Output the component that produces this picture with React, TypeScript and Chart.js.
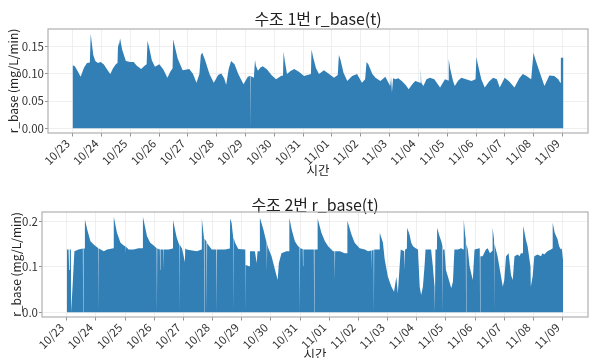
import { useEffect, useRef } from "react";
import { Chart, registerables } from "chart.js";

Chart.register(...registerables);

// ---- Data ----
const dateLabels = [
  "10/23", "10/24", "10/25", "10/26", "10/27", "10/28", "10/29", "10/30", "10/31",
  "11/01", "11/02", "11/03", "11/04", "11/05", "11/06", "11/07", "11/08", "11/09",
];
const dayTicks = [0, 1, 2, 3, 4, 5, 6, 7, 8, 9, 10, 11, 12, 13, 14, 15, 16, 17];
const yTicks1 = [0, 0.05, 0.1, 0.15];
const yTicks2 = [0, 0.1, 0.2];

// Tank 1: time (days since 10/23 00:00) and r_base
const t1 = [
  0.0, 0.08, 0.18, 0.28, 0.4, 0.5, 0.6, 0.63, 0.66, 0.72, 0.79, 0.88, 0.97, 1.08, 1.2, 1.31,
  1.4, 1.5, 1.56, 1.58, 1.6, 1.65, 1.72, 1.85, 2.0, 2.12, 2.23, 2.38, 2.5, 2.57, 2.6, 2.66,
  2.75, 2.86, 3.01, 3.15, 3.29, 3.4, 3.47, 3.49, 3.55, 3.65, 3.82, 4.05, 4.18, 4.3, 4.4, 4.45,
  4.5, 4.6, 4.75, 4.9, 5.05, 5.16, 5.26, 5.33, 5.42, 5.5, 5.62, 5.75, 5.93, 6.08, 6.16, 6.17,
  6.18, 6.29, 6.33, 6.36, 6.43, 6.52, 6.6, 6.75, 6.9, 7.06, 7.23, 7.3, 7.32, 7.36, 7.44, 7.55,
  7.69, 7.85, 8.03, 8.15, 8.27, 8.29, 8.35, 8.45, 8.55, 8.72, 8.9, 9.07, 9.2, 9.24, 9.3, 9.4,
  9.53, 9.7, 9.87, 10.04, 10.15, 10.2, 10.26, 10.4, 10.51, 10.68, 10.85, 11.02, 11.05, 11.08, 11.12, 11.2,
  11.3, 11.42, 11.55, 11.66, 11.8, 11.89, 12.06, 12.08, 12.1, 12.17, 12.28, 12.4, 12.55, 12.75, 12.92, 13.03,
  13.05, 13.1, 13.2, 13.26, 13.38, 13.49, 13.65, 13.84, 13.98, 14.01, 14.06, 14.18, 14.3, 14.45, 14.59, 14.72,
  14.82, 14.99, 15.15, 15.33, 15.5, 15.62, 15.75, 15.91, 15.99, 16.05, 16.2, 16.37, 16.54, 16.71, 16.85, 16.92,
  16.94, 17.03,
];
const v1 = [
  0.116, 0.114, 0.105, 0.095, 0.112, 0.12, 0.121, 0.174, 0.16, 0.135, 0.124, 0.12, 0.122, 0.118, 0.108, 0.1,
  0.11, 0.118, 0.12, 0.158, 0.15, 0.165, 0.145, 0.124, 0.122, 0.122, 0.115, 0.109, 0.115, 0.118, 0.161, 0.148,
  0.125, 0.113, 0.118, 0.108, 0.093, 0.105, 0.11, 0.164, 0.15, 0.128, 0.107, 0.109, 0.1, 0.084, 0.1, 0.135,
  0.139, 0.125, 0.1, 0.084, 0.098, 0.101, 0.092, 0.08, 0.11, 0.124, 0.118, 0.1, 0.081, 0.095, 0.096, 0.0,
  0.096, 0.093, 0.126, 0.115, 0.106, 0.112, 0.114, 0.108, 0.098, 0.09, 0.096, 0.097, 0.141, 0.125, 0.1, 0.105,
  0.109, 0.104, 0.096, 0.098, 0.1, 0.145, 0.13, 0.11, 0.1, 0.107, 0.1, 0.093, 0.098, 0.135, 0.125, 0.102,
  0.087, 0.096, 0.1, 0.084, 0.09, 0.122, 0.118, 0.1, 0.093, 0.087, 0.095, 0.078, 0.094, 0.066, 0.092, 0.09,
  0.092, 0.087, 0.08, 0.072, 0.082, 0.087, 0.084, 0.11, 0.084, 0.078, 0.09, 0.093, 0.09, 0.075, 0.09, 0.088,
  0.127, 0.11, 0.087, 0.078, 0.088, 0.093, 0.09, 0.087, 0.09, 0.131, 0.118, 0.09, 0.075, 0.086, 0.093, 0.09,
  0.075, 0.093, 0.086, 0.075, 0.092, 0.1, 0.096, 0.09, 0.139, 0.128, 0.104, 0.078, 0.097, 0.096, 0.09, 0.084,
  0.13, 0.13,
];

// Tank 2: time (days since 10/23 00:00) and r_base
const t2 = [
  0.0, 0.06, 0.08, 0.1, 0.14, 0.15, 0.17, 0.26, 0.4, 0.55, 0.56, 0.57, 0.61, 0.62, 0.7, 0.81,
  0.92, 1.08, 1.09, 1.1, 1.27, 1.38, 1.6, 1.61, 1.72, 1.84, 1.95, 2.0, 2.01, 2.02, 2.12, 2.29,
  2.46, 2.6, 2.61, 2.75, 2.86, 2.98, 3.08, 3.09, 3.1, 3.19, 3.2, 3.21, 3.31, 3.32, 3.33, 3.49,
  3.63, 3.64, 3.77, 3.85, 3.86, 3.87, 3.95, 4.05, 4.06, 4.11, 4.3, 4.46, 4.62, 4.63, 4.7, 4.71,
  4.72, 4.79, 4.8, 4.81, 4.97, 5.13, 5.14, 5.15, 5.43, 5.59, 5.6, 5.65, 5.7, 5.71, 5.72, 5.77,
  5.88, 6.12, 6.13, 6.14, 6.25, 6.28, 6.45, 6.51, 6.54, 6.61, 6.62, 6.74, 6.85, 6.86, 6.87, 6.91,
  7.02, 7.14, 7.23, 7.27, 7.36, 7.53, 7.62, 7.63, 7.71, 7.82, 7.93, 7.98, 7.99, 8.0, 8.09, 8.1,
  8.11, 8.28, 8.47, 8.48, 8.49, 8.59, 8.6, 8.73, 8.85, 8.96, 9.13, 9.18, 9.19, 9.2, 9.36, 9.53,
  9.61, 9.62, 9.76, 9.87, 10.04, 10.22, 10.33, 10.44, 10.45, 10.46, 10.52, 10.53, 10.54, 10.72, 10.73, 10.84,
  10.9, 11.01, 11.13, 11.22, 11.3, 11.35, 11.45, 11.57, 11.58, 11.6, 11.66, 11.67, 11.75, 11.81, 11.87, 11.96,
  12.04, 12.1, 12.15, 12.21, 12.27, 12.3, 12.49, 12.55, 12.61, 12.62, 12.64, 12.69, 12.7, 12.78, 12.84, 12.88,
  12.89, 12.9, 12.95, 13.0, 13.12, 13.18, 13.24, 13.29, 13.41, 13.52, 13.6, 13.61, 13.66, 13.68, 13.69, 13.7,
  13.75, 13.81, 13.92, 13.98, 14.15, 14.16, 14.17, 14.18, 14.26, 14.37, 14.43, 14.51, 14.59, 14.6, 14.65, 14.66,
  14.67, 14.77, 14.89, 14.95, 15.0, 15.06, 15.15, 15.23, 15.29, 15.35, 15.46, 15.52, 15.57, 15.64, 15.65, 15.74,
  15.8, 15.9, 15.91, 15.97, 16.03, 16.14, 16.26, 16.31, 16.37, 16.48, 16.6, 16.65, 16.66, 16.73, 16.83, 16.88,
  16.94, 16.97, 17.02,
];
const v2 = [
  0.138, 0.138, 0.093, 0.138, 0.138, 0.0, 0.0, 0.134, 0.138, 0.14, 0.0, 0.14, 0.14, 0.204, 0.182, 0.156,
  0.149, 0.141, 0.0, 0.14, 0.134, 0.138, 0.141, 0.21, 0.175, 0.153, 0.147, 0.145, 0.13, 0.145, 0.138, 0.138,
  0.141, 0.141, 0.21, 0.167, 0.153, 0.147, 0.141, 0.0, 0.14, 0.138, 0.093, 0.138, 0.138, 0.093, 0.138, 0.138,
  0.14, 0.203, 0.164, 0.149, 0.0, 0.149, 0.14, 0.11, 0.14, 0.138, 0.136, 0.134, 0.138, 0.206, 0.165, 0.0,
  0.162, 0.155, 0.0, 0.152, 0.138, 0.138, 0.0, 0.138, 0.138, 0.14, 0.206, 0.197, 0.167, 0.0, 0.165, 0.153,
  0.139, 0.138, 0.0, 0.104, 0.101, 0.134, 0.134, 0.108, 0.134, 0.134, 0.208, 0.182, 0.153, 0.09, 0.15, 0.141,
  0.123, 0.093, 0.071, 0.108, 0.13, 0.134, 0.134, 0.208, 0.182, 0.156, 0.145, 0.143, 0.0, 0.141, 0.139, 0.101,
  0.138, 0.138, 0.138, 0.0, 0.138, 0.138, 0.206, 0.175, 0.156, 0.145, 0.134, 0.134, 0.071, 0.134, 0.134, 0.13,
  0.13, 0.201, 0.171, 0.153, 0.141, 0.138, 0.134, 0.136, 0.093, 0.136, 0.137, 0.0, 0.138, 0.138, 0.175, 0.153,
  0.116, 0.078, 0.056, 0.045, 0.078, 0.041, 0.138, 0.134, 0.093, 0.138, 0.14, 0.186, 0.171, 0.153, 0.145, 0.141,
  0.138, 0.056, 0.038, 0.056, 0.105, 0.138, 0.138, 0.101, 0.056, 0.0, 0.138, 0.138, 0.186, 0.167, 0.156, 0.145,
  0.0, 0.138, 0.138, 0.093, 0.067, 0.053, 0.067, 0.138, 0.138, 0.141, 0.138, 0.204, 0.17, 0.16, 0.0, 0.15,
  0.138, 0.101, 0.071, 0.138, 0.141, 0.14, 0.0, 0.123, 0.123, 0.138, 0.141, 0.13, 0.135, 0.186, 0.16, 0.0,
  0.15, 0.123, 0.078, 0.056, 0.071, 0.123, 0.13, 0.082, 0.071, 0.123, 0.127, 0.123, 0.13, 0.13, 0.19, 0.16,
  0.145, 0.1, 0.056, 0.078, 0.123, 0.127, 0.123, 0.13, 0.127, 0.134, 0.138, 0.14, 0.197, 0.175, 0.16, 0.145,
  0.138, 0.141, 0.112,
];

const FONT = "'Noto Sans CJK KR', 'Noto Sans', sans-serif";
const FILL = "rgb(50,127,182)";
const GRID = "#ebebeb";

const framePlugin = {
  id: "frame",
  afterDatasetsDraw(chart: any) {
    const { ctx, chartArea: a } = chart;
    ctx.save();
    ctx.strokeStyle = "#b0b0b0";
    ctx.lineWidth = 1.2;
    ctx.strokeRect(a.left, a.top, a.right - a.left, a.bottom - a.top);
    ctx.restore();
  },
};

type Opts = {
  t: number[];
  v: number[];
  title: string;
  yTicks: number[];
  decimals: number;
  yWidth: number;
  xHeight: number;
  titlePadTop: number;
  titlePadBottom: number;
  yTitlePad: number;
  xTitlePadBottom: number;
};

function makeConfig(o: Opts): any {
  const tMin = Math.min(...o.t);
  const tMax = Math.max(...o.t);
  const vMax = Math.max(...o.v);
  const vMin = 0;
  const xPad = (tMax - tMin) * 0.05;
  const yPad = (vMax - vMin) * 0.05;
  return {
    type: "line",
    data: {
      datasets: [
        {
          data: o.t.map((x, i) => ({ x, y: o.v[i] })),
          fill: "origin",
          backgroundColor: FILL,
          borderColor: "rgba(0,0,0,0)",
          borderWidth: 1,
          pointRadius: 0,
          tension: 0,
        },
      ],
    },
    options: {
      animation: false,
      responsive: false,
      devicePixelRatio: 1,
      layout: { padding: { left: 0, right: 2, top: 0, bottom: 0 } },
      plugins: {
        legend: { display: false },
        tooltip: { enabled: false },
        title: {
          display: true,
          text: o.title,
          fullSize: false,
          color: "#222",
          font: { family: FONT, size: 16, weight: "normal", lineHeight: 1 },
          padding: { top: o.titlePadTop, bottom: o.titlePadBottom },
        },
      },
      scales: {
        x: {
          type: "linear",
          min: tMin - xPad,
          max: tMax + xPad,
          afterBuildTicks: (s: any) => {
            s.ticks = dayTicks.map((d) => ({ value: d }));
          },
          afterFit: (s: any) => {
            s.height = o.xHeight;
          },
          ticks: {
            autoSkip: false,
            maxRotation: 45,
            minRotation: 45,
            padding: 0,
            labelOffset: -5,
            color: "#333",
            font: { family: FONT, size: 11.5 },
            callback: (_v: any, i: number) => dateLabels[i],
          },
          grid: { color: GRID, lineWidth: 0.8, tickLength: 3.5, tickColor: "#777", tickWidth: 0.8 },
          border: { display: false },
          title: {
            display: true,
            text: "시간",
            color: "#222",
            font: { family: FONT, size: 12.5 },
            padding: { top: 0, bottom: o.xTitlePadBottom },
          },
        },
        y: {
          min: vMin - yPad,
          max: vMax + yPad,
          afterBuildTicks: (s: any) => {
            s.ticks = o.yTicks.map((d) => ({ value: d }));
          },
          afterFit: (s: any) => {
            s.width = o.yWidth;
          },
          ticks: {
            padding: 1,
            color: "#333",
            font: { family: FONT, size: 11.5 },
            callback: (val: any) => Number(val).toFixed(o.decimals),
          },
          grid: { color: GRID, lineWidth: 0.8, tickLength: 3, tickColor: "#777", tickWidth: 0.8 },
          border: { display: false },
          title: {
            display: true,
            text: "r_base (mg/L/min)",
            color: "#222",
            font: { family: FONT, size: 12 },
            padding: { top: o.yTitlePad, bottom: 0 },
          },
        },
      },
    },
    plugins: [framePlugin],
  };
}

export default function App() {
  const ref1 = useRef<HTMLCanvasElement>(null);
  const ref2 = useRef<HTMLCanvasElement>(null);

  useEffect(() => {
    document.body.style.margin = "0";
    const c1 = new Chart(
      ref1.current as HTMLCanvasElement,
      makeConfig({
        t: t1,
        v: v1,
        title: "수조 1번 r_base(t)",
        yTicks: yTicks1,
        decimals: 2,
        yWidth: 48,
        xHeight: 46,
        titlePadTop: 11,
        titlePadBottom: 2,
        yTitlePad: 6,
        xTitlePadBottom: 1.5,
      })
    );
    const c2 = new Chart(
      ref2.current as HTMLCanvasElement,
      makeConfig({
        t: t2,
        v: v2,
        title: "수조 2번 r_base(t)",
        yTicks: yTicks2,
        decimals: 1,
        yWidth: 42,
        xHeight: 47,
        titlePadTop: 17.5,
        titlePadBottom: -0.5,
        yTitlePad: 9.5,
        xTitlePadBottom: 2.5,
      })
    );
    return () => {
      c1.destroy();
      c2.destroy();
    };
  }, []);

  return (
    <div
      style={{
        position: "absolute",
        left: 0,
        top: 0,
        width: 590,
        height: 358,
        overflow: "hidden",
        background: "#fff",
      }}
    >
      <canvas ref={ref1} width={590} height={179} style={{ position: "absolute", left: 0, top: 0, width: 590, height: 179 }} />
      <canvas ref={ref2} width={590} height={185} style={{ position: "absolute", left: 0, top: 179, width: 590, height: 185 }} />
    </div>
  );
}
